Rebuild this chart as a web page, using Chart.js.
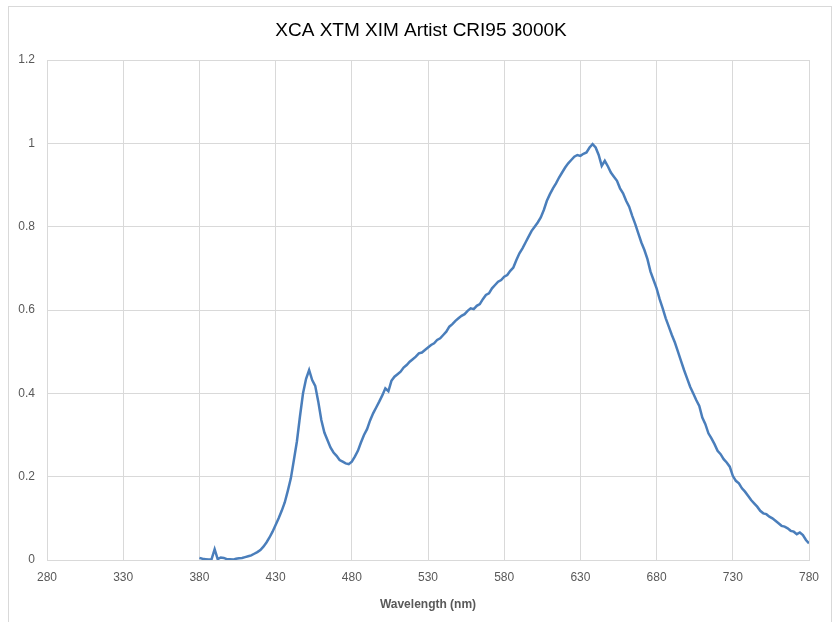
<!DOCTYPE html>
<html>
<head>
<meta charset="utf-8">
<script src="https://cdn.jsdelivr.net/npm/chart.js@4"></script>
<style>
html,body{margin:0;padding:0;background:#fff;}
#wrap{position:absolute;left:0;top:0;width:834px;height:622px;}
</style>
</head>
<body>
<div id="wrap"><canvas id="c" width="834" height="622"></canvas></div>
<script>
const chartTitle = "XCA XTM XIM Artist CRI95 3000K";
const xAxisTitle = "Wavelength (nm)";
const xTicks = [280, 330, 380, 430, 480, 530, 580, 630, 680, 730, 780];
const yTicks = [0, 0.2, 0.4, 0.6, 0.8, 1, 1.2];

const wavelengths = [
 380,382,384,386,388,390,392,394,396,398,
 400,402,404,406,408,410,412,414,416,418,
 420,422,424,426,428,430,432,434,436,438,
 440,442,444,446,448,450,452,454,456,458,
 460,462,464,466,468,470,472,474,476,478,
 480,482,484,486,488,490,492,494,496,498,
 500,502,504,506,508,510,512,514,516,518,
 520,522,524,526,528,530,532,534,536,538,
 540,542,544,546,548,550,552,554,556,558,
 560,562,564,566,568,570,572,574,576,578,
 580,582,584,586,588,590,592,594,596,598,
 600,602,604,606,608,610,612,614,616,618,
 620,622,624,626,628,630,632,634,636,638,
 640,642,644,646,648,650,652,654,656,658,
 660,662,664,666,668,670,672,674,676,678,
 680,682,684,686,688,690,692,694,696,698,
 700,702,704,706,708,710,712,714,716,718,
 720,722,724,726,728,730,732,734,736,738,
 740,742,744,746,748,750,752,754,756,758,
 760,762,764,766,768,770,772,774,776,778,
 780
];
const intensity = [
 0.005,0.003,0.002,0.001,0.002,0.026,0.002,0.006,0.005,0.002,
 0.002,0.001,0.003,0.004,0.005,0.007,0.009,0.011,0.015,0.019,
 0.024,0.032,0.042,0.054,0.068,0.084,0.100,0.118,0.138,0.166,
 0.196,0.240,0.285,0.345,0.400,0.435,0.456,0.432,0.418,0.380,
 0.336,0.306,0.288,0.270,0.258,0.250,0.240,0.236,0.232,0.230,
 0.236,0.248,0.262,0.282,0.300,0.314,0.335,0.352,0.366,0.380,
 0.395,0.412,0.405,0.430,0.440,0.446,0.452,0.462,0.468,0.476,
 0.482,0.488,0.496,0.498,0.504,0.510,0.516,0.520,0.528,0.532,
 0.540,0.548,0.560,0.566,0.574,0.580,0.586,0.590,0.598,0.604,
 0.602,0.610,0.614,0.626,0.636,0.640,0.652,0.660,0.668,0.672,
 0.680,0.684,0.694,0.702,0.720,0.736,0.748,0.762,0.776,0.790,
 0.800,0.810,0.822,0.840,0.862,0.878,0.892,0.904,0.918,0.930,
 0.942,0.952,0.960,0.968,0.972,0.970,0.975,0.978,0.990,0.998,
 0.990,0.972,0.946,0.958,0.945,0.930,0.920,0.910,0.892,0.880,
 0.862,0.848,0.826,0.806,0.784,0.762,0.744,0.722,0.692,0.672,
 0.652,0.626,0.604,0.580,0.560,0.540,0.522,0.500,0.478,0.456,
 0.436,0.416,0.400,0.384,0.370,0.342,0.326,0.304,0.292,0.278,
 0.262,0.254,0.242,0.234,0.224,0.202,0.190,0.184,0.172,0.164,
 0.154,0.144,0.136,0.128,0.118,0.112,0.110,0.104,0.100,0.094,
 0.088,0.082,0.080,0.076,0.070,0.068,0.062,0.066,0.060,0.048,
 0.040
];

const points = wavelengths.map((w, i) => ({x: w, y: intensity[i]}));

const decor = {
  id: 'decor',
  beforeDraw(chart) {
    const ctx = chart.ctx;
    ctx.save();
    ctx.fillStyle = '#ffffff';
    ctx.fillRect(0, 0, chart.width, chart.height);
    ctx.strokeStyle = '#d9d9d9';
    ctx.lineWidth = 1;
    ctx.strokeRect(8.5, 6.5, 823, 700);
    ctx.restore();
  },
  afterDraw(chart) {
    const ctx = chart.ctx;
    ctx.save();
    ctx.fillStyle = '#000000';
    ctx.font = '19px "Liberation Sans", Arial, sans-serif';
    ctx.textAlign = 'center';
    ctx.textBaseline = 'middle';
    ctx.fillText(chartTitle, 421, 31);
    ctx.restore();
  }
};

new Chart(document.getElementById('c'), {
  type: 'line',
  data: {
    datasets: [{
      data: points,
      borderColor: '#4A7EBB',
      borderWidth: 2.5,
      pointRadius: 0,
      tension: 0,
      fill: false
    }]
  },
  options: {
    responsive: false,
    animation: false,
    devicePixelRatio: 1,
    layout: {padding: {left: 0, right: 25, top: 60, bottom: 0}},
    plugins: {legend: {display: false}, tooltip: {enabled: false}, title: {display: false}},
    scales: {
      x: {
        type: 'linear',
        min: 280, max: 780,
        afterBuildTicks(scale) { scale.ticks = xTicks.map(v => ({value: v})); },
        afterFit(scale) { scale.height = 62; },
        grid: {color: '#d9d9d9', lineWidth: 1, drawTicks: false},
        border: {color: '#d9d9d9'},
        ticks: {color: '#595959', font: {size: 12, family: '"Liberation Sans", Arial, sans-serif'}, padding: 10, maxRotation: 0, autoSkip: false},
        title: {display: true, text: xAxisTitle, color: '#595959', font: {size: 12, weight: 'bold', family: '"Liberation Sans", Arial, sans-serif'}, padding: {top: 4, bottom: 10}}
      },
      y: {
        min: 0, max: 1.2,
        afterBuildTicks(scale) { scale.ticks = yTicks.map(v => ({value: v})); },
        afterFit(scale) { scale.width = 47; },
        grid: {color: '#d9d9d9', lineWidth: 1, drawTicks: false},
        border: {color: '#d9d9d9'},
        ticks: {color: '#595959', font: {size: 12, family: '"Liberation Sans", Arial, sans-serif'}, padding: 12, callback: v => String(v)}
      }
    }
  },
  plugins: [decor]
});
</script>
</body>
</html>
